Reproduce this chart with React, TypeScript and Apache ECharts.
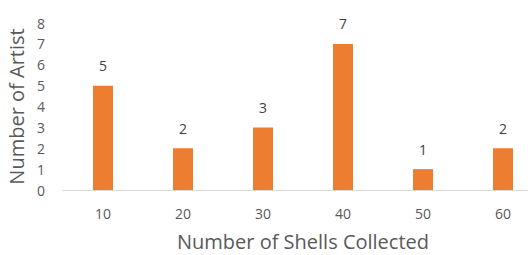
import React, { useEffect, useRef } from "react";
import * as echarts from "echarts";

const categories = ["10", "20", "30", "40", "50", "60"];
const artistCounts = [5, 2, 3, 7, 1, 2];
const xTitle = "Number of Shells Collected";
const yTitle = "Number of Artist";

export default function App() {
  const ref = useRef<HTMLDivElement>(null);
  useEffect(() => {
    if (!ref.current) return;
    const chart = echarts.init(ref.current, undefined, { renderer: "svg" });
    const font = "'Open Sans', 'Liberation Sans', sans-serif";
    chart.setOption({
      animation: false,
      backgroundColor: "#ffffff",
      textStyle: { fontFamily: font },
      grid: {
        left: 63,
        right: -15,
        top: 23,
        bottom: 65,
        containLabel: false,
        outerBoundsMode: "none",
      },
      xAxis: {
        type: "category",
        data: categories,
        name: xTitle,
        nameLocation: "middle",
        nameGap: 41,
        nameTextStyle: { fontSize: 20, color: "#595959", fontFamily: font },
        axisLine: { show: true, lineStyle: { color: "#D9D9D9", width: 1 } },
        axisTick: { show: false },
        axisLabel: { fontSize: 14, color: "#595959", margin: 16, fontFamily: font },
      },
      yAxis: {
        type: "value",
        min: 0,
        max: 8,
        interval: 1,
        name: yTitle,
        nameLocation: "middle",
        nameGap: 35,
        nameTextStyle: { fontSize: 20, color: "#595959", fontFamily: font },
        axisLine: { show: false },
        axisTick: { show: false },
        splitLine: { show: false },
        axisLabel: { fontSize: 14, color: "#595959", margin: 18, fontFamily: font },
      },
      series: [
        {
          type: "bar",
          data: artistCounts,
          barWidth: 20,
          itemStyle: { color: "#ED7D31" },
          label: {
            show: true,
            position: "top",
            distance: 13,
            fontSize: 14,
            color: "#404040",
            fontFamily: font,
          },
        },
      ],
    });
    return () => chart.dispose();
  }, []);
  return (
    <div
      ref={ref}
      style={{ position: "fixed", left: 0, top: 0, width: 528, height: 255 }}
    />
  );
}
